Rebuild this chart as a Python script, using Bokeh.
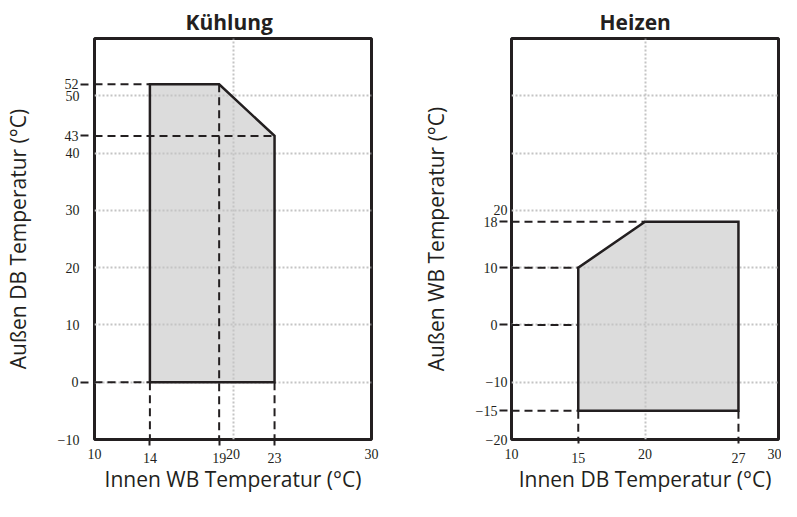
from bokeh.plotting import figure
from bokeh.models import LinearAxis, FixedTicker, Range1d
from bokeh.layouts import row
from bokeh.embed import file_html
from bokeh.resources import INLINE

# ---------------- data ----------------
# Kühlung (cooling) operating range
cool_poly_x = [14, 14, 19, 23, 23]
cool_poly_y = [0, 52, 52, 43, 0]
cool_hguide_y = [52, 43, 0]
cool_hguide_x = [14, 23, 14]
cool_vguide_x = [14, 19, 23]
cool_vguide_y = [0, 52, 0]
cool_xrange = [10, 30]
cool_yrange = [-10, 60]
cool_xticks_upper = [10, 20, 30]
cool_yticks_other = [-10, 10, 20, 30, 40, 50]
cool_ygrid = [0, 10, 20, 30, 40, 50]
cool_xgrid = [20]

# Heizen (heating) operating range
heat_poly_x = [15, 15, 20, 27, 27]
heat_poly_y = [-15, 10, 18, 18, -15]
heat_hguide_y = [18, 10, 0, -15]
heat_hguide_x = [20, 15, 15, 15]
heat_vguide_x = [15, 27]
heat_vguide_y = [-15, -15]
heat_xrange = [10, 30]
heat_yrange = [-20, 50]
heat_xticks_upper = [10, 20, 30]
heat_yticks_other = [-20, -10, 20]
heat_ygrid = [-10, 0, 10, 20, 30, 40]
heat_xgrid = [20]

INK = "#231f20"
FILL = "#dcdcdc"
GRID = "#c4c4c4"
SANS = "Open Sans"
SERIF = "Liberation Serif"
TICK_SIZE = "14px"


def style_labels(ax):
    ax.major_label_text_font = SERIF
    ax.major_label_text_font_size = TICK_SIZE
    ax.major_label_text_color = INK
    ax.axis_label_text_font = SANS
    ax.axis_label_text_font_style = "normal"
    ax.axis_label_text_font_size = "21px"
    ax.axis_label_text_color = INK
    ax.minor_tick_line_color = None


def make(title, title_off, xr, yr, width, height,
         ml, mr, poly_x, poly_y, hgy, hgx, vgx, vgy,
         xt_up, yt_other, ygrid, xgrid, xlabel, ylabel,
         ytick_len, ylab_standoff, yb_standoff,
         xtick_len, xa_standoff, xlab_standoff, xb_standoff):
    p = figure(width=width, height=height,
               x_range=Range1d(xr[0], xr[1]), y_range=Range1d(yr[0], yr[1]),
               output_backend="svg", toolbar_location=None,
               min_border_left=ml, min_border_right=mr,
               min_border_top=38, min_border_bottom=45, title=title)
    xa = p.below[0]
    ya = p.left[0]

    p.title.text_font = SANS
    p.title.text_font_style = "bold"
    p.title.text_font_size = "21px"
    p.title.text_color = INK
    p.title.align = "left"
    p.title.offset = title_off
    p.title.vertical_align = "top"
    p.title.standoff = 2

    p.outline_line_color = INK
    p.outline_line_width = 3
    p.outline_line_alpha = 1.0
    p.background_fill_color = "white"
    p.border_fill_color = "white"

    # grid
    p.xgrid.ticker = FixedTicker(ticks=xgrid)
    p.ygrid.ticker = FixedTicker(ticks=ygrid)
    p.grid.grid_line_color = GRID
    p.grid.grid_line_dash = "2 2"
    p.grid.grid_line_width = 2

    # filled region (below grid)
    p.patch(poly_x, poly_y, fill_color=FILL, line_color=None, level="image")

    # dashed guides
    p.segment(x0=[xr[0]] * len(hgy), y0=hgy, x1=hgx, y1=hgy,
              line_color=INK, line_width=2, line_dash="8 5")
    p.segment(x0=vgx, y0=vgy, x1=vgx, y1=[yr[0]] * len(vgx),
              line_color=INK, line_width=2, line_dash="8 5")

    # outline of region
    p.line(poly_x + poly_x[:1], poly_y + poly_y[:1], line_color=INK,
           line_width=2.5, line_join="miter")

    # ---- x axes ----
    style_labels(xa)
    xa.ticker = FixedTicker(ticks=vgx)
    xa.axis_line_color = None
    xa.major_tick_out = xtick_len
    xa.major_tick_in = 0
    xa.major_tick_line_color = INK
    xa.major_tick_line_width = 2
    xa.major_tick_line_dash = "8 5"
    xa.major_label_standoff = xa_standoff
    xa.axis_label = xlabel
    xa.axis_label_standoff = xlab_standoff

    xb = LinearAxis(ticker=FixedTicker(ticks=xt_up))
    style_labels(xb)
    xb.axis_line_color = None
    xb.major_tick_line_color = None
    xb.major_tick_out = 0
    xb.major_tick_in = 0
    xb.major_label_standoff = xb_standoff
    p.add_layout(xb, "below")

    # ---- y axes ----
    style_labels(ya)
    ya.ticker = FixedTicker(ticks=hgy)
    ya.axis_line_color = None
    ya.major_tick_out = ytick_len
    ya.major_tick_in = 0
    ya.major_tick_line_color = INK
    ya.major_tick_line_width = 2
    ya.major_tick_line_dash = "8 5"
    ya.major_label_standoff = 2
    ya.axis_label = ylabel
    ya.axis_label_standoff = ylab_standoff

    yb = LinearAxis(ticker=FixedTicker(ticks=yt_other))
    style_labels(yb)
    yb.axis_line_color = None
    yb.major_tick_line_color = None
    yb.major_tick_out = 0
    yb.major_tick_in = 0
    yb.major_label_standoff = yb_standoff
    p.add_layout(yb, "left")
    return p


p1 = make("Kühlung", 91, cool_xrange, cool_yrange, 386, 495,
          89, 15, cool_poly_x, cool_poly_y,
          cool_hguide_y, cool_hguide_x, cool_vguide_x, cool_vguide_y,
          cool_xticks_upper, cool_yticks_other, cool_ygrid, cool_xgrid,
          "Innen WB Temperatur (°C)", "Außen DB Temperatur (°C)",
          14, 30, -79,
          6, 7, -1, -47)

p2 = make("Heizen", 88, heat_xrange, heat_yrange, 395, 495,
          125, 3, heat_poly_x, heat_poly_y,
          heat_hguide_y, heat_hguide_x, heat_vguide_x, heat_vguide_y,
          heat_xticks_upper, heat_yticks_other, heat_ygrid, heat_xgrid,
          "Innen DB Temperatur (°C)", "Außen WB Temperatur (°C)",
          12, 23, -89,
          4, 9, -1, -47)

layout = row(p1, p2)
open("out.html", "w").write(file_html(layout, INLINE))
